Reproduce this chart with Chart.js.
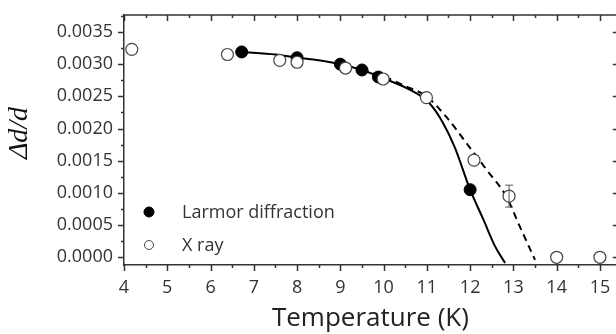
<!DOCTYPE html>
<html>
<head>
<meta charset="utf-8">
<script src="https://cdn.jsdelivr.net/npm/chart.js@4.4.0/dist/chart.umd.min.js"></script>
<style>
  html, body { margin: 0; padding: 0; background: #fff; overflow: hidden; }
  canvas { display: block; }
</style>
</head>
<body>
<!-- a bit wider than the window: the right frame of the original plot is cut off -->
<canvas id="chart" width="624" height="334"></canvas>
<script>
// Larmor diffraction points (T in K, Δd/d)
const larmorT = [6.72, 8.0, 9.0, 9.5, 9.88, 12.0];
const larmorD = [0.00319, 0.00310, 0.00300, 0.00291, 0.00280, 0.00105];

// X ray points
const xrayT = [4.18, 6.39, 7.6, 8.0, 9.12, 9.99, 10.99, 12.09, 12.9, 14.0, 15.0];
const xrayD = [0.00323, 0.00315, 0.00306, 0.00303, 0.00294, 0.00277, 0.00248, 0.00151, 0.00095, 0.0, 0.0];
const xrayErr = [0, 0, 0, 0, 0, 0, 0, 0, 0.00017, 0, 0];

// fit curves
const solidT = [6.72, 7.5, 8.0, 8.5, 9.0, 9.5, 10.0, 10.6, 11.05, 11.38, 11.65, 12.0, 12.31, 12.58, 12.81];
const solidD = [0.00319, 0.00315, 0.00310, 0.00306, 0.00300, 0.00291, 0.00278, 0.002605, 0.00240, 0.00208, 0.00170, 0.00105, 0.00058, 0.000165, -0.00009];
const dashT = [9.5, 10.0, 10.5, 10.99, 11.45, 11.92, 12.38, 12.84, 13.15, 13.5];
const dashD = [0.00292, 0.00281, 0.00266, 0.00250, 0.00218, 0.00177, 0.00136, 0.00094, 0.000475, -0.00004];

const xTicks = [4, 5, 6, 7, 8, 9, 10, 11, 12, 13, 14, 15];
const yTicks = [0, 0.0005, 0.001, 0.0015, 0.002, 0.0025, 0.003, 0.0035];

const pts = (xs, ys) => xs.map((x, i) => ({ x: x, y: ys[i] }));
const ink = '#333';

// ticks on all four sides, drawn by hand so minor ticks can be shorter
const frame = {
  id: 'frame',
  afterDraw(chart) {
    const { ctx, chartArea: { left, right, top, bottom }, scales: { x, y } } = chart;
    ctx.save();
    ctx.strokeStyle = ink;
    ctx.lineWidth = 1.5;
    ctx.beginPath();
    ctx.moveTo(left, top);
    ctx.lineTo(right, top);
    ctx.lineTo(right, bottom);
    for (let v = 4; v <= x.max; v += 0.5) {
      const px = Math.round(x.getPixelForValue(v)) + 0.5;
      const len = Number.isInteger(v) ? 6 : 3;
      ctx.moveTo(px, bottom); ctx.lineTo(px, bottom + len);
      ctx.moveTo(px, top); ctx.lineTo(px, top + len);
    }
    for (let v = 0; v <= y.max; v += 0.00025) {
      const py = Math.round(y.getPixelForValue(v)) + 0.5;
      const major = Math.abs(v / 0.0005 - Math.round(v / 0.0005)) < 1e-6;
      ctx.moveTo(left, py); ctx.lineTo(left - (major ? 6 : 3), py);
      if (major) { ctx.moveTo(right, py); ctx.lineTo(right - 4, py); }
    }
    ctx.stroke();

    // error bars
    ctx.lineWidth = 1;
    ctx.strokeStyle = '#555';
    ctx.beginPath();
    xrayErr.forEach((e, i) => {
      if (!e) return;
      const px = x.getPixelForValue(xrayT[i]);
      const y1 = y.getPixelForValue(xrayD[i] + e);
      const y2 = y.getPixelForValue(xrayD[i] - e);
      ctx.moveTo(px, y1); ctx.lineTo(px, y2);
      ctx.moveTo(px - 4, y1); ctx.lineTo(px + 4, y1);
      ctx.moveTo(px - 4, y2); ctx.lineTo(px + 4, y2);
    });
    ctx.stroke();

    // legend inside the plot
    const items = [chart.data.datasets[0], chart.data.datasets[1]];
    items.forEach((ds, i) => {
      const cy = top + 197 + i * 33;
      const cx = left + 25;
      ctx.beginPath();
      ctx.arc(cx, cy, i === 0 ? 5 : 4.5, 0, Math.PI * 2);
      ctx.fillStyle = ds.backgroundColor;
      ctx.fill();
      ctx.lineWidth = 1;
      ctx.strokeStyle = ds.borderColor;
      ctx.stroke();
      ctx.fillStyle = ink;
      ctx.font = '18px "Open Sans"';
      ctx.textBaseline = 'middle';
      ctx.fillText(ds.label, left + 58, cy + 1);
    });
    ctx.restore();
  }
};

new Chart(document.getElementById('chart'), {
  type: 'scatter',
  data: {
    datasets: [
      {
        label: 'Larmor diffraction',
        data: pts(larmorT, larmorD),
        backgroundColor: '#000',
        borderColor: '#000',
        pointRadius: 6,
        order: 2
      },
      {
        label: 'X ray',
        data: pts(xrayT, xrayD),
        backgroundColor: '#fff',
        borderColor: '#444',
        borderWidth: 1.2,
        pointRadius: 6,
        order: 1
      },
      {
        type: 'line',
        data: pts(solidT, solidD),
        borderColor: '#000',
        borderWidth: 2,
        pointRadius: 0,
        cubicInterpolationMode: 'monotone',
        order: 3
      },
      {
        type: 'line',
        data: pts(dashT, dashD),
        borderColor: '#000',
        borderWidth: 2,
        borderDash: [7, 5],
        pointRadius: 0,
        cubicInterpolationMode: 'monotone',
        order: 3
      }
    ]
  },
  options: {
    responsive: false,
    animation: false,
    devicePixelRatio: 1,
    layout: { padding: { top: 15, right: 0, left: 0, bottom: 0 } },
    plugins: {
      legend: { display: false },
      tooltip: { enabled: false }
    },
    scales: {
      x: {
        type: 'linear',
        min: 4,
        max: 15.39,
        afterFit: s => { s.height = 69; },
        afterBuildTicks: s => { s.ticks = xTicks.map(v => ({ value: v })); },
        ticks: {
          color: ink,
          font: { family: 'Open Sans', size: 18 },
          padding: 0,
          callback: v => String(v)
        },
        // invisible tick marks just push the labels down; real ticks come from the plugin
        grid: { drawOnChartArea: false, drawTicks: true, tickLength: 12, tickColor: 'rgba(0,0,0,0)' },
        border: { color: ink, width: 1.5 },
        title: {
          display: true,
          text: 'Temperature (K)',
          color: '#222',
          font: { family: 'Open Sans', size: 26 },
          padding: { top: 0, bottom: 0 }
        }
      },
      y: {
        min: -0.00012,
        max: 0.003764,
        afterFit: s => { s.width = 124; s.paddingTop = 0; s.paddingBottom = 0; },
        afterBuildTicks: s => { s.ticks = yTicks.map(v => ({ value: v })); },
        ticks: {
          color: ink,
          font: { family: 'Open Sans', size: 18 },
          padding: 0,
          callback: v => v.toFixed(4)
        },
        grid: { drawOnChartArea: false, drawTicks: true, tickLength: 11, tickColor: 'rgba(0,0,0,0)' },
        border: { color: ink, width: 1.5 },
        title: {
          display: true,
          text: '  \u0394d/d',
          color: '#111',
          font: { family: 'Liberation Serif', size: 28, style: 'italic' },
          padding: { top: 3, bottom: 0 }
        }
      }
    }
  },
  plugins: [frame]
});
</script>
</body>
</html>
